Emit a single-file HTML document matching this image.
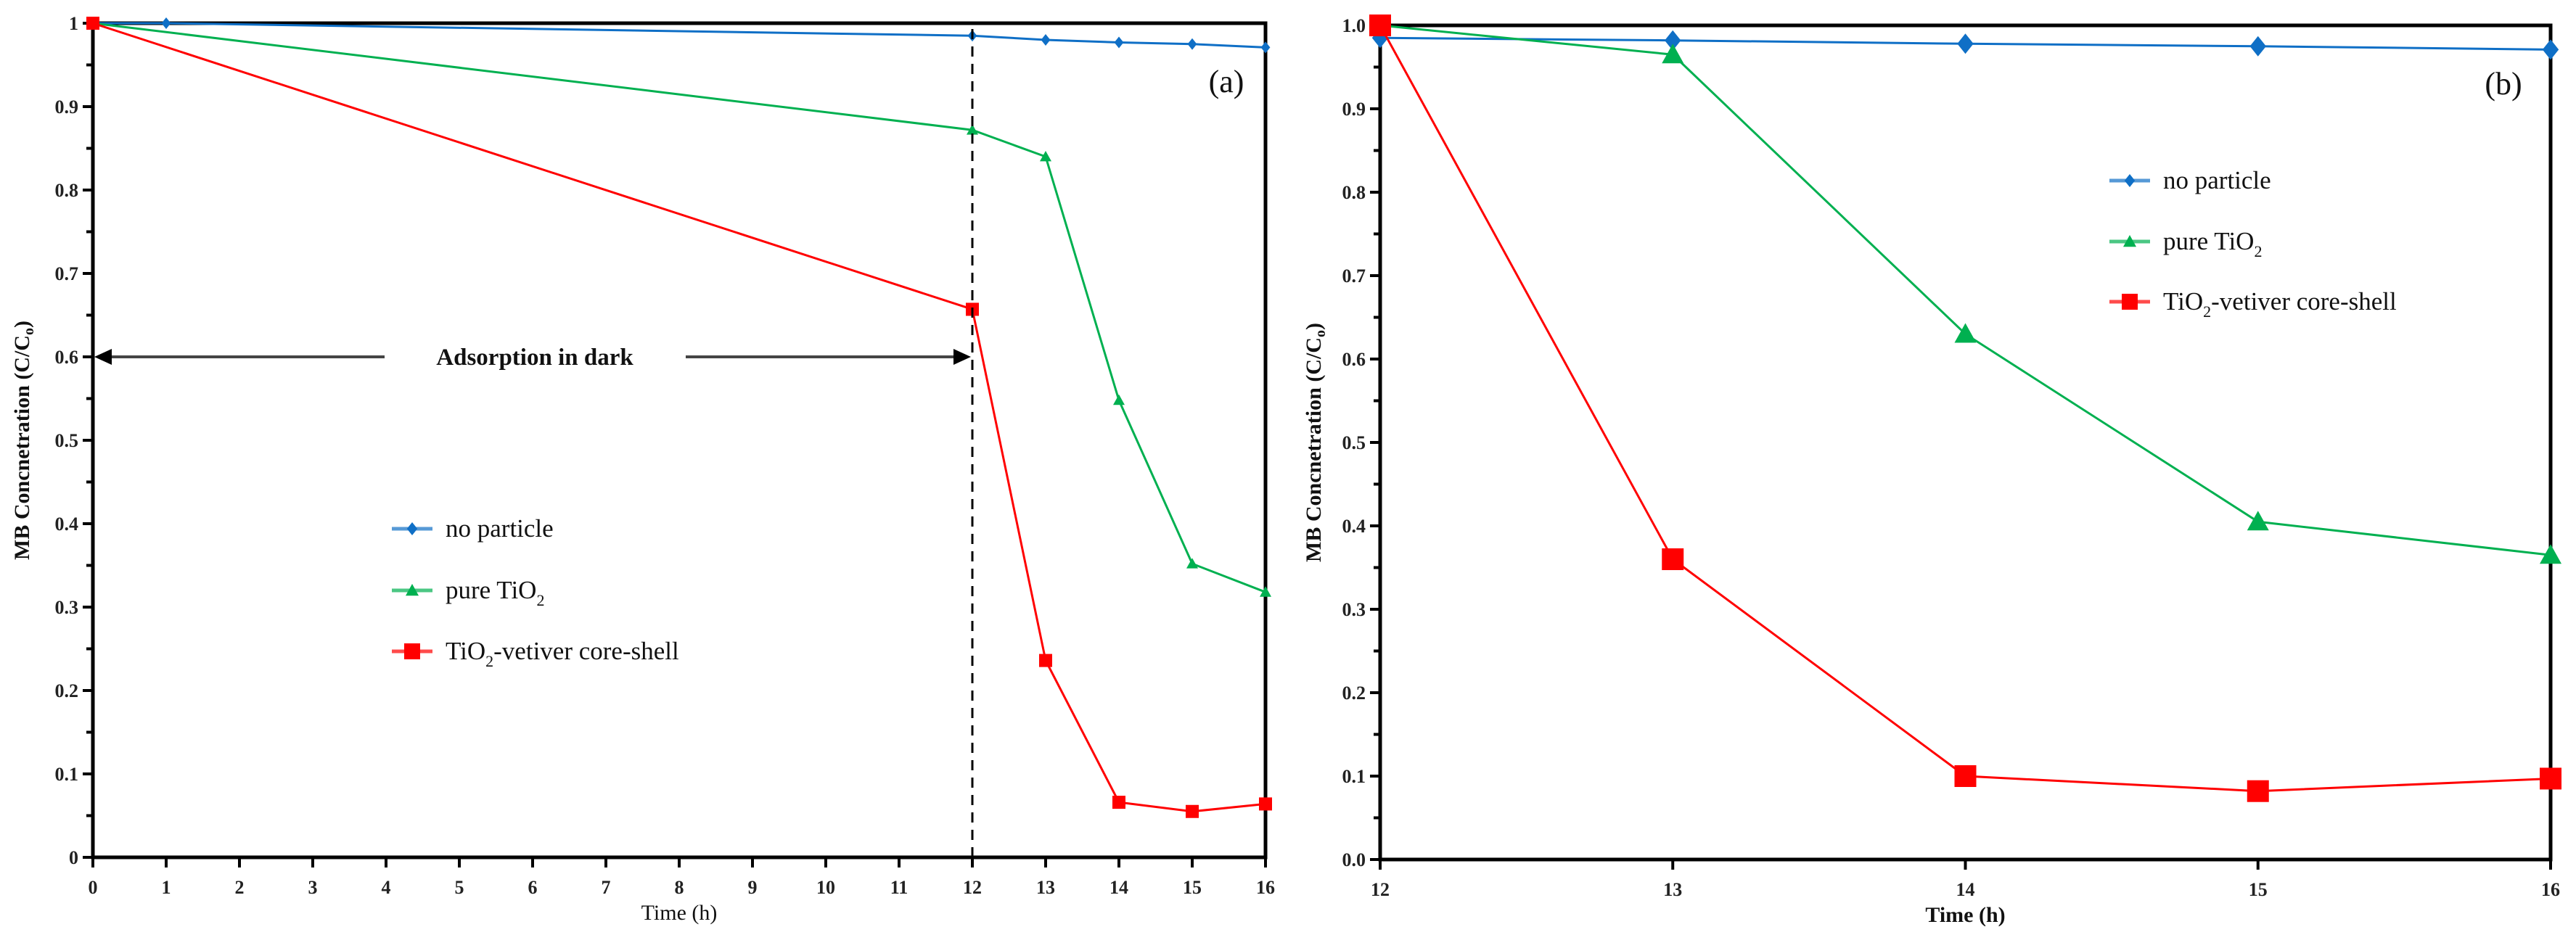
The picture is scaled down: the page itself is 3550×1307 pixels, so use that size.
<!DOCTYPE html>
<html><head><meta charset="utf-8"><style>
html,body{margin:0;padding:0;background:#fff;}
svg{display:block;}
svg, svg text, svg tspan{font-family:"Liberation Serif","DejaVu Serif",serif;}
</style></head><body>
<svg id="chart" width="3550" height="1307" viewBox="0 0 3550 1307" font-family="Liberation Serif, serif" xmlns="http://www.w3.org/2000/svg"></svg>
<script>
// Panel (a) data
const timesA = [0, 1, 12, 13, 14, 15, 16];
const noParticleA = [1.0, 1.0, 0.985, 0.98, 0.977, 0.975, 0.971];
const timesAgreen = [0, 12, 13, 14, 15, 16];
const pureTiO2A = [1.0, 0.872, 0.84, 0.548, 0.352, 0.318];
const coreShellA = [1.0, 0.657, 0.236, 0.066, 0.055, 0.064];
const xTicksA = [0,1,2,3,4,5,6,7,8,9,10,11,12,13,14,15,16];
const yTicksA = ["0","0.1","0.2","0.3","0.4","0.5","0.6","0.7","0.8","0.9","1"];
// Panel (b) data
const timesB = [12, 13, 14, 15, 16];
const noParticleB = [0.985, 0.982, 0.978, 0.975, 0.971];
const pureTiO2B = [1.0, 0.965, 0.63, 0.405, 0.365];
const coreShellB = [1.0, 0.36, 0.10, 0.082, 0.097];
const xTicksB = [12, 13, 14, 15, 16];
const yTicksB = ["0.0","0.1","0.2","0.3","0.4","0.5","0.6","0.7","0.8","0.9","1.0"];

const NS = "http://www.w3.org/2000/svg";
const svg = document.getElementById("chart");
function mk(tag, attrs, parent, txt){
  const e = document.createElementNS(NS, tag);
  for (const k in attrs) e.setAttribute(k, attrs[k]);
  if (txt !== undefined) e.textContent = txt;
  (parent || svg).appendChild(e);
  return e;
}
const BLUE="#0f6fc6", GREEN="#00b050", RED="#ff0000";

function marker(g, type, x, y, s, color){
  let m;
  if (type==="diamond") m = mk("polygon",{points:`${x},${y-s} ${x+s*0.8},${y} ${x},${y+s} ${x-s*0.8},${y}`,fill:color},g);
  else if (type==="tri") m = mk("polygon",{points:`${x},${y-s} ${x+s},${y+s*0.8} ${x-s},${y+s*0.8}`,fill:color},g);
  else m = mk("rect",{x:x-s,y:y-s,width:2*s,height:2*s,fill:color},g);
  return m;
}

function panel(cfg){
  const g = mk("g",{});
  
  
  const sx = v => cfg.x0 + (v - cfg.xmin)/(cfg.xmax-cfg.xmin)*(cfg.x1-cfg.x0);
  const sy = v => cfg.y0 - v*(cfg.y0-cfg.y1);
  const frame = mk("rect",{x:cfg.x0,y:cfg.y1,width:cfg.x1-cfg.x0,height:cfg.y0-cfg.y1,fill:"none",stroke:"#000","stroke-width":5},g);
  
  
  const yax = mk("g",{},g);
  
  
  for (let i=0;i<=20;i++){
    const v=i*0.05, y=sy(v), major=i%2===0;
    mk("line",{x1:cfg.x0-(major?14:9),x2:cfg.x0,y1:y,y2:y,stroke:"#000","stroke-width":4},yax);
  }
  cfg.yTicks.forEach((lab,i)=>{
    const t = mk("text",{x:cfg.x0-20,y:sy(i*0.1)+9,"text-anchor":"end","font-size":26,"font-weight":"bold",fill:"#222"},yax,lab);
    
    
  });
  const xax = mk("g",{},g);
  
  
  cfg.xTicks.forEach(v=>{
    const x=sx(v);
    mk("line",{x1:x,x2:x,y1:cfg.y0,y2:cfg.y0+14,stroke:"#000","stroke-width":4},xax);
    const t = mk("text",{x:x,y:cfg.y0+50,"text-anchor":"middle","font-size":26,"font-weight":"bold",fill:"#222"},xax,String(v));
    
    
  });
  const xt = mk("text",{x:(cfg.x0+cfg.x1)/2,y:cfg.y0+86,"text-anchor":"middle","font-size":cfg.xTitleSize,"font-weight":cfg.xTitleWeight,fill:"#111"},g,"Time (h)");
  
  
  const cy=(cfg.y0+cfg.y1)/2;
  const yt = mk("text",{x:0,y:0,transform:`translate(${cfg.yTitleX},${cy}) rotate(-90)`,"text-anchor":"middle","font-size":30,"font-weight":"bold",fill:"#111"},g);
  
  
  yt.appendChild(document.createTextNode("MB Concnetration (C/C"));
  mk("tspan",{"font-size":20,dy:6},yt,"o");
  mk("tspan",{dy:-6},yt,")");
  cfg.series.forEach(s=>{
    const sg = mk("g",{},g);
    
    
    const pts = s.xs.map((v,i)=>`${sx(v)},${sy(s.ys[i])}`).join(" ");
    const pl = mk("polyline",{points:pts,fill:"none",stroke:s.color,"stroke-width":cfg.lw},sg);
    
    
    s.xs.forEach((v,i)=>{
      const m = marker(sg,s.type,sx(v),sy(s.ys[i]),s.size,s.color);
      
      
    });
  });
  const lg = mk("g",{},g);
  
  
  cfg.series.forEach((s,i)=>{
    const y = cfg.legY[i];
    const e = mk("g",{},lg);
    
    
    mk("line",{x1:cfg.legX-28,x2:cfg.legX+28,y1:y,y2:y,stroke:s.color,"stroke-width":5,opacity:0.7},e);
    marker(e,s.type,cfg.legX,y,s.type==="square"?11:9,s.color);
    const t = mk("text",{x:cfg.legX+46,y:y+11,"font-size":35,fill:"#111"},e);
    s.label.forEach(p=>{ if(p.sub) mk("tspan",{"font-size":22,dy:10},t,p.t); else mk("tspan",{dy:p.up?-10:0},t,p.t); });
  });
  const pl = mk("text",{x:cfg.plX,y:cfg.plY,"text-anchor":"middle","font-size":44,fill:"#111","font-weight":cfg.plW},g,cfg.panelLabel);
  
  
  return {g,sx,sy};
}

const labs = {
  np:[{t:"no particle"}],
  pt:[{t:"pure TiO"},{t:"2",sub:true}],
  cs:[{t:"TiO"},{t:"2",sub:true},{t:"-vetiver core-shell",up:true}]
};

const A = panel({name:"panel-a",x0:128,x1:1744,y0:1182,y1:32,xmin:0,xmax:16,xTicks:xTicksA,yTicks:yTicksA,
  yTitleX:40,lw:3,xTitleSize:30,xTitleWeight:"normal",legX:568,legY:[729,814,898],plX:1690,plY:127,plW:"normal",panelLabel:"(a)",
  series:[
    {name:"no-particle-series",xs:timesA,ys:noParticleA,color:BLUE,type:"diamond",size:8,label:labs.np},
    {name:"pure-tio2-series",xs:timesAgreen,ys:pureTiO2A,color:GREEN,type:"tri",size:8,label:labs.pt},
    {name:"core-shell-series",xs:timesAgreen,ys:coreShellA,color:RED,type:"square",size:9,label:labs.cs}
  ]});

const xd = A.sx(12), ya = A.sy(0.6);
const dl = mk("line",{x1:xd,x2:xd,y1:A.sy(0),y2:A.sy(1),stroke:"#000","stroke-width":3,"stroke-dasharray":"14,10"});


const ann = mk("g",{});


mk("line",{x1:A.sx(0)+20,x2:530,y1:ya,y2:ya,stroke:"#444","stroke-width":4},ann);
mk("line",{x1:945,x2:xd-20,y1:ya,y2:ya,stroke:"#444","stroke-width":4},ann);
mk("polygon",{points:`${A.sx(0)+2},${ya} ${A.sx(0)+26},${ya-11} ${A.sx(0)+26},${ya+11}`,fill:"#000"},ann);
mk("polygon",{points:`${xd-2},${ya} ${xd-26},${ya-11} ${xd-26},${ya+11}`,fill:"#000"},ann);
mk("text",{x:737,y:ya+11,"text-anchor":"middle","font-size":33,"font-weight":"bold",fill:"#111"},ann,"Adsorption in dark");

panel({name:"panel-b",x0:1902,x1:3515,y0:1185,y1:35,xmin:12,xmax:16,xTicks:xTicksB,yTicks:yTicksB,
  yTitleX:1820,lw:3,xTitleSize:30,xTitleWeight:"bold",legX:2935,legY:[249,333,416],plX:3450,plY:130,plW:"normal",panelLabel:"(b)",
  series:[
    {name:"no-particle-series",xs:timesB,ys:noParticleB,color:BLUE,type:"diamond",size:14,label:labs.np},
    {name:"pure-tio2-series",xs:timesB,ys:pureTiO2B,color:GREEN,type:"tri",size:15,label:labs.pt},
    {name:"core-shell-series",xs:timesB,ys:coreShellB,color:RED,type:"square",size:15,label:labs.cs}
  ]});
</script>
</body></html>
